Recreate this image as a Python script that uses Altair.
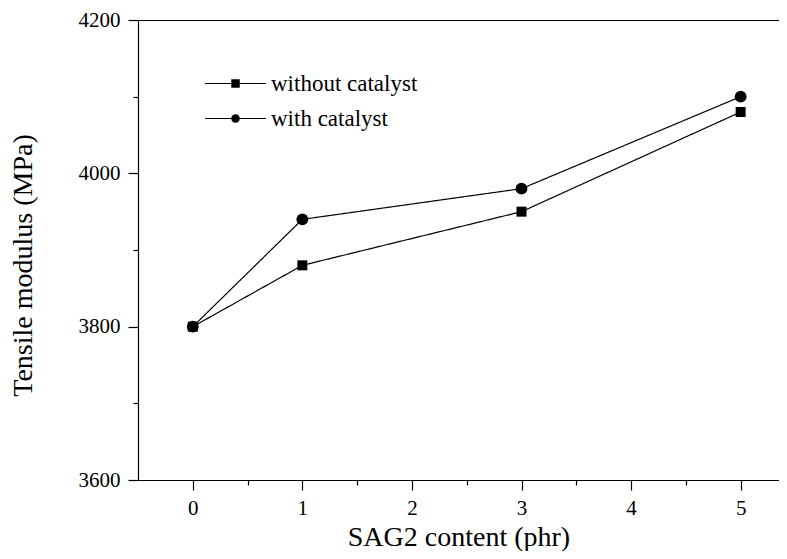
import altair as alt
import pandas as pd

# ---- data ----
x_vals = [0, 1, 3, 5]
without_catalyst = [3800, 3880, 3950, 4080]
with_catalyst = [3800, 3940, 3980, 4100]
series_names = ["without catalyst", "with catalyst"]
line_key_names = ["without catalyst ", "with catalyst "]
x_major = [0, 1, 2, 3, 4, 5]
x_minor = [0.5, 1.5, 2.5, 3.5, 4.5]
y_major = [3600, 3800, 4000, 4200]
y_minor = [3700, 3900, 4100]

rows = []
for name, key, vals in zip(series_names, line_key_names, [without_catalyst, with_catalyst]):
    for xv, yv in zip(x_vals, vals):
        rows.append({"x": xv, "y": yv, "series": name, "series2": key})
df = pd.DataFrame(rows)

FONT = "Liberation Serif"
xscale = alt.Scale(domain=[-0.5, 5.35], nice=False, zero=False)
yscale = alt.Scale(domain=[3600, 4200], nice=False, zero=False)

base = alt.Chart(df)

LEG_X = 86
LEG_Y = 52
LEG_SIZE = 72

lines = base.mark_line(color="black", strokeWidth=1.2).encode(
    x=alt.X("x:Q", scale=xscale, title="SAG2 content (phr)",
            axis=alt.Axis(orient="bottom", values=x_major, tickSize=10, labelPadding=7,
                          labelFontSize=21, titleFontSize=28, titleY=57, titleBaseline="middle",
                          format="d")),
    y=alt.Y("y:Q", scale=yscale, title="Tensile modulus (MPa)",
            axis=alt.Axis(orient="left", values=y_major, tickSize=10, labelPadding=8,
                          labelFontSize=21, titleFontSize=28, titleX=-115, titleY=245,
                          titleAlign="center", titleBaseline="middle", format="d")),
    strokeDash=alt.StrokeDash("series2:N", title=None,
                              scale=alt.Scale(domain=line_key_names, range=[[1, 0], [1, 0]]),
                              legend=alt.Legend(orient="none", legendX=LEG_X, legendY=LEG_Y,
                                                symbolType="M-7.2,0H7.2", symbolSize=LEG_SIZE,
                                                symbolStrokeColor="black", symbolStrokeWidth=1.2,
                                                labelFont=FONT, labelFontSize=23, labelOffset=24,
                                                labelOpacity=0, rowPadding=11, padding=0)),
)

points = base.mark_point(filled=True, color="black", opacity=1).encode(
    x=alt.X("x:Q", scale=xscale, axis=None),
    y=alt.Y("y:Q", scale=yscale, axis=None),
    shape=alt.Shape("series:N", title=None,
                    scale=alt.Scale(domain=series_names, range=["square", "circle"]),
                    legend=alt.Legend(orient="none", legendX=LEG_X, legendY=LEG_Y,
                                      symbolSize=LEG_SIZE, symbolFillColor="black",
                                      symbolStrokeColor="black", symbolStrokeWidth=0,
                                      labelFont=FONT, labelFontSize=23, labelOffset=24,
                                      labelColor="black", rowPadding=11, padding=0)),
    size=alt.condition(alt.datum.series == "with catalyst", alt.value(140), alt.value(100)),
)

minor = base.mark_point(opacity=0).encode(
    x=alt.X("x:Q", scale=xscale, title=None,
            axis=alt.Axis(orient="bottom", values=x_minor, labels=False, domain=False, tickSize=5)),
    y=alt.Y("y:Q", scale=yscale, title=None,
            axis=alt.Axis(orient="left", values=y_minor, labels=False, domain=False, tickSize=5)),
)

top = base.mark_point(opacity=0).encode(
    x=alt.X("x:Q", scale=xscale, title=None,
            axis=alt.Axis(orient="top", labels=False, ticks=False, domain=True)),
)

chart = (
    alt.layer(lines, points, minor, top)
    .resolve_axis(x="independent", y="independent")
    .properties(width=641, height=460,
                autosize=alt.AutoSizeParams(type="none"),
                padding={"left": 130, "top": 12, "right": 0, "bottom": 71})
    .configure_view(strokeOpacity=0)
    .configure_axis(domainColor="black", tickColor="black", labelColor="black",
                    titleColor="black", labelFont=FONT, titleFont=FONT, grid=False,
                    labelFontSize=21, titleFontSize=28,
                    domainWidth=1.2, tickWidth=1.2, titleFontWeight="normal")
)

chart.save("out.html", embed_options={"renderer": "svg", "actions": False})
